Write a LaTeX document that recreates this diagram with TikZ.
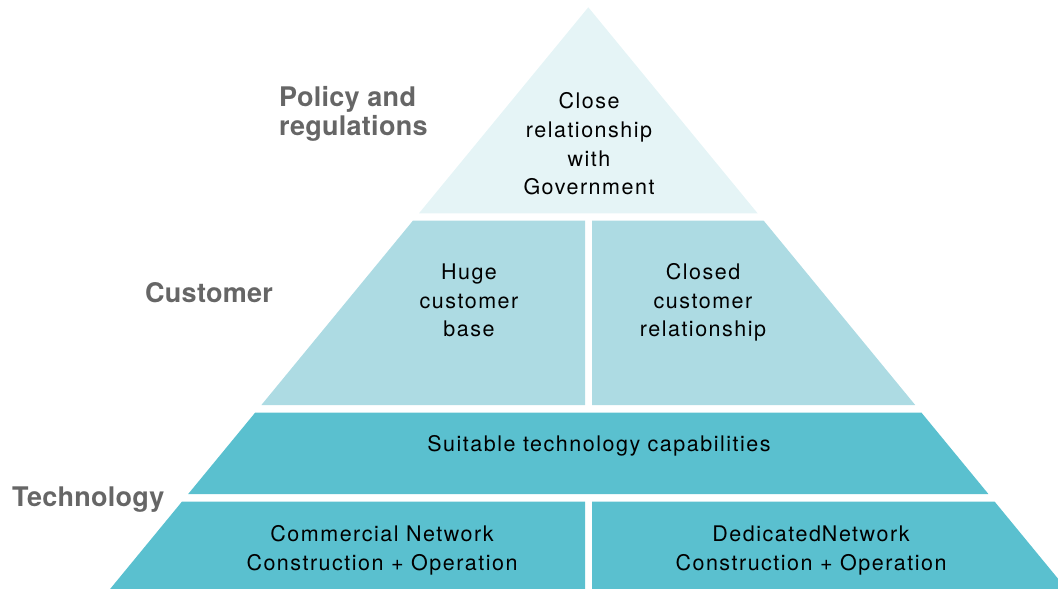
\documentclass[tikz,border=0pt]{standalone}
\usepackage{fontspec}
\setmainfont{TeX Gyre Heros}
\newfontfamily\bodyfont[LetterSpace=7]{TeX Gyre Heros}
\newfontfamily\labfont[LetterSpace=1]{TeX Gyre Heros}
\definecolor{topc}{HTML}{E5F4F6}
\definecolor{custc}{HTML}{ADDBE3}
\definecolor{techc}{HTML}{5AC0CF}
\definecolor{labc}{HTML}{666666}
\begin{document}
\begin{tikzpicture}[x=1pt,y=-1pt,
  celltext/.style={align=center,font=\bodyfont\fontsize{21.5}{28.7}\selectfont,text=black,inner sep=0pt},
  sidelab/.style={align=left,font=\labfont\fontsize{27}{29}\selectfont\bfseries,text=labc,inner sep=0pt}]
\useasboundingbox (0,0) rectangle (1058,589);
\clip (0,0) rectangle (1058,589);
% top triangle
\fill[topc] (588.3,7.3) -- (757.6,213.3) -- (419.0,213.3) -- cycle;
% customer layer
\fill[custc] (412.9,220.7) -- (585,220.7) -- (585,405) -- (261.4,405) -- cycle;
\fill[custc] (592,220.7) -- (763.7,220.7) -- (915.2,405) -- (592,405) -- cycle;
% technology layer
\fill[techc] (255.1,412.7) -- (921.5,412.7) -- (988.4,494) -- (188.2,494) -- cycle;
\fill[techc] (181.9,501.7) -- (585,501.7) -- (585,589) -- (110.1,589) -- cycle;
\fill[techc] (592,501.7) -- (994.7,501.7) -- (1066.5,589) -- (592,589) -- cycle;
% texts
\node[celltext] (gov) at (589,144) {Close\\relationship\\with\\Government};
\node[celltext] (huge) at (469,300.5) {Huge\\customer\\base};
\node[celltext] (closed) at (703,302.5) {Closed\\customer\\relationship};
\node[celltext] (suit) at (599,446) {Suitable technology capabilities};
\node[celltext] (comm) at (382,550.5) {Commercial Network\\Construction + Operation};
\node[celltext] (ded) at (811,550.5) {Dedicated\kern1pt Network\\Construction + Operation};
\node[sidelab,anchor=west] (pol) at (279,114) {Policy and\\regulations};
\node[sidelab,anchor=west] (cust) at (145,293) {Customer};
\node[sidelab,anchor=west] (tech) at (12,500) {Technology};
\end{tikzpicture}
\end{document}
